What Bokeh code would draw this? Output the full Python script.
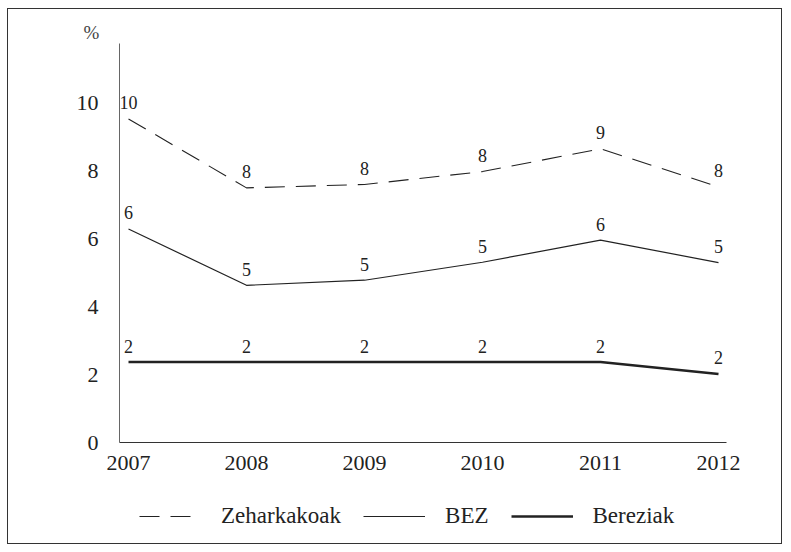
from bokeh.plotting import figure
from bokeh.models import Range1d, FixedTicker, Legend, LegendItem, Label, ColumnDataSource
from bokeh.embed import file_html
from bokeh.resources import INLINE
from bokeh.core.properties import value

years = ["2007", "2008", "2009", "2010", "2011", "2012"]
zeharkakoak = [9.53, 7.50, 7.60, 7.98, 8.65, 7.53]
bez = [6.29, 4.63, 4.78, 5.31, 5.96, 5.30]
bereziak = [2.37, 2.37, 2.37, 2.37, 2.37, 2.02]
zeharkakoak_labels = ["10", "8", "8", "8", "9", "8"]
bez_labels = ["6", "5", "5", "5", "6", "5"]
bereziak_labels = ["2", "2", "2", "2", "2", "2"]
y_ticks = [0, 2, 4, 6, 8, 10]

FONT = "'Liberation Serif', serif"
INK = "#222222"

W, H = 773, 534
# x scale: 118 px per year, first year 120 px from left edge
X_PX, X0_PX = 118, 120
# y scale: 33.95 px per unit, zero 433 px below top edge
Y_PX, Y0_PX = 33.95, 433
X_AXIS_BOUNDS = (-0.076, 5.068)
Y_AXIS_BOUNDS = (0, 11.75)

x = list(range(len(years)))

p = figure(
    width=W, height=H, frame_width=W, frame_height=H,
    min_border_left=0, min_border_right=0, min_border_top=0, min_border_bottom=0,
    x_range=Range1d(-X0_PX / X_PX, (W - X0_PX) / X_PX),
    y_range=Range1d(-(H - Y0_PX) / Y_PX, Y0_PX / Y_PX),
    output_backend="svg", toolbar_location=None,
    styles={"border": "1px solid #333333", "margin-left": "7px", "margin-top": "8px"},
)
p.grid.visible = False
p.outline_line_color = None
p.background_fill_color = "white"
p.border_fill_color = "white"

for ax in (p.xaxis[0], p.yaxis[0]):
    ax.axis_line_width = 1
    ax.major_tick_line_color = None
    ax.minor_tick_line_color = None
    ax.major_label_text_font = FONT
    ax.major_label_text_font_size = "22px"
    ax.major_label_text_color = INK

p.xaxis.axis_line_color = "#333333"
p.yaxis.axis_line_color = "#666666"
p.xaxis.fixed_location = 0
p.xaxis.bounds = X_AXIS_BOUNDS
p.xaxis.ticker = FixedTicker(ticks=x)
p.xaxis.major_label_overrides = {i: y for i, y in enumerate(years)}
p.xaxis.major_label_standoff = 7
p.yaxis.fixed_location = X_AXIS_BOUNDS[0]
p.yaxis.bounds = Y_AXIS_BOUNDS
p.yaxis.ticker = FixedTicker(ticks=y_ticks)
p.yaxis.major_label_standoff = 15

src = ColumnDataSource(dict(x=x, z=zeharkakoak, b=bez, r=bereziak,
                            zl=zeharkakoak_labels, bl=bez_labels, rl=bereziak_labels))

r1 = p.line("x", "z", source=src, line_color=INK, line_width=1.1, line_dash="20 11")
r2 = p.line("x", "b", source=src, line_color=INK, line_width=1.2)
r3 = p.line("x", "r", source=src, line_color=INK, line_width=2.6)

for col, lab in (("z", "zl"), ("b", "bl"), ("r", "rl")):
    p.text(x="x", y=col, text=lab, source=src, text_align="center", text_baseline="middle",
           y_offset=-16, text_font=value(FONT), text_font_size="18px", text_color=INK)

p.add_layout(Label(x=83, y=H - 23, x_units="screen", y_units="screen", text="%",
                   text_align="center", text_baseline="middle", text_font=FONT,
                   text_font_size="19px", text_color="#444444"))

legend = Legend(items=[LegendItem(label="Zeharkakoak", renderers=[r1]),
                       LegendItem(label="BEZ", renderers=[r2]),
                       LegendItem(label="Bereziak", renderers=[r3])],
                orientation="horizontal", location=(131, 14),
                glyph_width=62, glyph_height=20, label_height=20,
                label_standoff=20, spacing=22, padding=0, margin=0,
                border_line_color=None, background_fill_alpha=0,
                label_text_font=FONT, label_text_font_size="23px", label_text_color=INK)
p.add_layout(legend, "center")

open("out.html", "w").write(file_html(p, INLINE))
